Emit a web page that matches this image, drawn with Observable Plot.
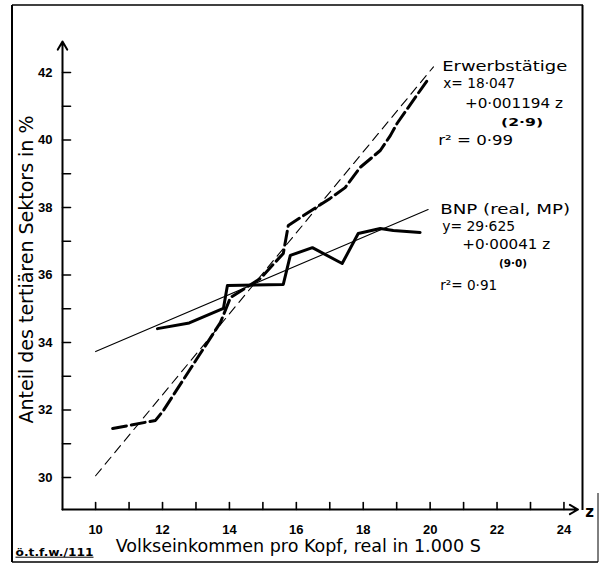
<!DOCTYPE html>
<html><head><meta charset="utf-8">
<script src="https://cdn.jsdelivr.net/npm/d3@7"></script>
<script src="https://cdn.jsdelivr.net/npm/@observablehq/plot@0.6"></script>
<style>html,body{margin:0;padding:0;background:#fff;} svg{display:block;}</style>
</head><body><div id="chart"></div>
<script>
// ---- data ----
const bnpIncome = [11.85, 12.8, 13.82, 13.94, 15.61, 15.82, 16.48, 17.37, 17.85, 18.51, 18.9, 19.7];
const bnpShare  = [34.41, 34.58, 35.01, 35.69, 35.72, 36.58, 36.81, 36.34, 37.23, 37.38, 37.32, 37.26];
const erwIncome = [10.51, 11.79, 12.03, 13.73, 14.03, 14.93, 15.61, 15.76, 16.12, 17.01, 17.46, 17.91, 18.51, 18.81, 19.01, 19.49, 19.91];
const erwShare  = [31.45, 31.69, 31.99, 34.59, 35.33, 35.9, 36.64, 37.47, 37.70, 38.27, 38.59, 39.19, 39.69, 40.13, 40.49, 41.17, 41.76];
const bnpFitIncome = [10, 19.94];
const bnpFitShare  = [33.73, 37.94];
const erwFitIncome = [10, 20.1];
const erwFitShare  = [30.05, 42.17];
const xTickLabels = [10, 12, 14, 16, 18, 20, 22, 24];
const xTickMarks  = [10, 11, 12, 13, 14, 15, 16, 17, 18, 19, 20, 21, 22, 23, 24];
const yTickLabels = [30, 32, 34, 36, 38, 40, 42];
const yTickMarks  = [30, 31, 32, 33, 34, 35, 36, 37, 38, 39, 40, 41, 42];
const yTitle = "Anteil des tertiären Sektors in %";
const xTitle = "Volkseinkommen pro Kopf, real in 1.000 S";
const sourceNote = "ö.t.f.w./111";
const axisVar = "z";
const annotLabels = ["Erwerbstätige", "x= 18·047", "+0·001194 z", "r² = 0·99",
                     "BNP (real, MP)", "y= 29·625", "+0·00041 z", "r²= 0·91"];
const annotIncome = [20.36, 20.39, 21.04, 20.24, 20.30, 20.36, 20.96, 20.30];
const annotShare  = [42.18, 41.67, 41.10, 40.00, 37.95, 37.45, 36.92, 35.70];
const tStatLabels = ["(2·9)", "(9·0)"];
const tStatIncome = [22.12, 22.06];
const tStatShare  = [40.50, 36.33];

// ---- tables ----
const toRows = (xs, ys) => xs.map((x, i) => ({x, y: ys[i]}));
const bnp = toRows(bnpIncome, bnpShare);
const erw = toRows(erwIncome, erwShare);
const bnpFit = toRows(bnpFitIncome, bnpFitShare);
const erwFit = toRows(erwFitIncome, erwFitShare);
const annots = annotLabels.map((t, i) => ({t, x: annotIncome[i], y: annotShare[i]}));
const tstats = tStatLabels.map((t, i) => ({t, x: tStatIncome[i], y: tStatShare[i]}));

const xDom = [9.01, 24.42], yDom = [29.05, 42.92];
const tickShape = {draw(ctx, l) { ctx.moveTo(0, 0); ctx.lineTo(0, -l); }};

const plot = Plot.plot({
  width: 601, height: 564,
  marginLeft: 62, marginRight: 23.5, marginTop: 41, marginBottom: 55,
  x: {domain: xDom}, y: {domain: yDom},
  style: {fontFamily: "DejaVu Sans", background: "#fff", color: "#000", overflow: "visible"},
  marks: [
    // axes with arrows
    Plot.arrow([0], {x1: () => xDom[0], y1: () => yDom[0], x2: () => xDom[0], y2: () => yDom[1], stroke: "#000", strokeWidth: 2, headLength: 7}),
    Plot.arrow([0], {x1: () => xDom[0], y1: () => yDom[0], x2: () => xDom[1], y2: () => yDom[0], stroke: "#000", strokeWidth: 2, headLength: 7}),
    // inward ticks
    Plot.vector(xTickMarks, {x: d => d, y: () => yDom[0], length: 7, rotate: 0, anchor: "start", shape: tickShape, stroke: "#000", strokeWidth: 1.6}),
    Plot.vector(yTickMarks, {x: () => xDom[0], y: d => d, length: 8, rotate: 90, anchor: "start", shape: tickShape, stroke: "#000", strokeWidth: 1.6}),
    Plot.axisX({ticks: xTickLabels, tickSize: 0, tickPadding: 15, label: null, tickFormat: d => String(d),
      fontSize: 13, fontWeight: "bold", fontFamily: "Liberation Sans"}),
    Plot.axisY({ticks: yTickLabels, tickSize: 0, tickPadding: 10, label: null, tickFormat: d => String(d),
      fontSize: 13, fontWeight: "bold", fontFamily: "Liberation Sans"}),
    // regression lines
    Plot.line(erwFit, {x: "x", y: "y", stroke: "#000", strokeWidth: 1.1, strokeDasharray: "9,6"}),
    Plot.line(bnpFit, {x: "x", y: "y", stroke: "#000", strokeWidth: 1.1}),
    // observed series
    Plot.line(erw, {x: "x", y: "y", stroke: "#000", strokeWidth: 3, strokeDasharray: "14,5", strokeLinejoin: "round"}),
    Plot.line(bnp, {x: "x", y: "y", stroke: "#000", strokeWidth: 3, strokeLinejoin: "round"}),
    // annotations
    Plot.text(annots, {x: "x", y: "y", text: "t", textAnchor: "start", lineAnchor: "middle", fontSize: 14.5, fill: "#000"}),
    Plot.text(tstats, {x: "x", y: "y", text: "t", textAnchor: "start", lineAnchor: "middle", fontSize: 10, fontWeight: "bold", fill: "#000"}),
    // titles
    Plot.text([yTitle], {frameAnchor: "left", rotate: -90, dx: -36, dy: -6, fontSize: 19, textAnchor: "middle", lineAnchor: "middle", fill: "#000"}),
    Plot.text([xTitle], {frameAnchor: "bottom", dx: -22, dy: 36.5, fontSize: 17.5, textAnchor: "middle", lineAnchor: "middle", fill: "#000"}),
    Plot.text([sourceNote], {frameAnchor: "bottom-left", dx: -47, dy: 43, fontSize: 10, fontWeight: "bold", textAnchor: "start", lineAnchor: "middle", fill: "#000"}),
    Plot.text([axisVar], {frameAnchor: "bottom-right", dx: 11.5, dy: 3, fontSize: 15, fontWeight: "bold", textAnchor: "middle", lineAnchor: "middle", fill: "#000"})
  ]
});
document.getElementById("chart").appendChild(plot);

// fit text widths to the original lettering
const fitWidths = new Map([
  ["Erwerbstätige", 125], ["x= 18·047", 72], ["+0·001194 z", 98], ["(2·9)", 42], ["r² = 0·99", 75],
  ["BNP (real, MP)", 130], ["y= 29·625", 73], ["+0·00041 z", 88], ["(9·0)", 28], ["r²= 0·91", 57],
  [yTitle, 308], [xTitle, 365], [sourceNote, 78]
]);
for (const t of plot.querySelectorAll("text")) {
  const w = fitWidths.get(t.textContent);
  if (w) { t.setAttribute("textLength", w); t.setAttribute("lengthAdjust", "spacingAndGlyphs"); }
  if (t.textContent === sourceNote) t.style.textDecoration = "underline";
}

// page frame (decorative border of the scanned figure)
const svg = d3.select(plot);
const frame = svg.append("g").attr("fill", "none").attr("stroke", "#000");
frame.append("path").attr("d", "M12,5V562").attr("stroke-width", 2);
frame.append("path").attr("d", "M12,5H583").attr("stroke-width", 1.5);
frame.append("path").attr("d", "M582.5,5V510").attr("stroke-width", 2);
frame.append("path").attr("d", "M12,562H598").attr("stroke-width", 1.5);
frame.append("path").attr("d", "M598,493V562").attr("stroke-width", 1);
</script>
</body></html>
